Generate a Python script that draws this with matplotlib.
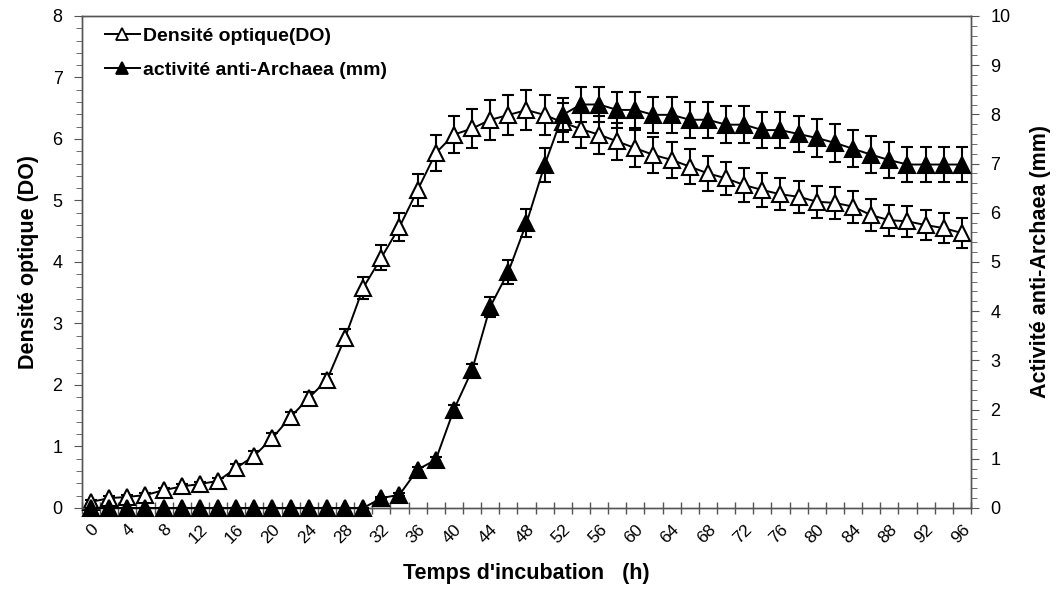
import numpy as np
import matplotlib
matplotlib.use('Agg')
import matplotlib.pyplot as plt
from matplotlib.lines import Line2D
from matplotlib.ticker import MultipleLocator

plt.rcParams['font.family'] = ['Liberation Sans', 'DejaVu Sans']

# incubation time (h)
hours = list(range(0, 97, 2))

# optical density (left axis)
do_vals = [0.10, 0.16, 0.18, 0.21, 0.29, 0.35, 0.39, 0.44, 0.65, 0.85,
           1.14, 1.48, 1.79, 2.08, 2.77, 3.58, 4.07, 4.57, 5.17, 5.77,
           6.07, 6.17, 6.31, 6.39, 6.47, 6.39, 6.27, 6.16, 6.07, 5.96,
           5.85, 5.74, 5.66, 5.55, 5.44, 5.36, 5.25, 5.17, 5.10, 5.06,
           4.98, 4.96, 4.90, 4.76, 4.68, 4.66, 4.60, 4.55, 4.47]
do_err = [0.03, 0.03, 0.03, 0.03, 0.04, 0.04, 0.04, 0.05, 0.06, 0.07,
          0.08, 0.08, 0.10, 0.10, 0.14, 0.18, 0.20, 0.23, 0.26, 0.29,
          0.30, 0.31, 0.32, 0.32, 0.33, 0.32, 0.32, 0.31, 0.31, 0.30,
          0.30, 0.29, 0.29, 0.28, 0.28, 0.27, 0.27, 0.27, 0.26, 0.26,
          0.26, 0.26, 0.26, 0.26, 0.25, 0.25, 0.25, 0.24, 0.24]

# anti-Archaea activity (mm, right axis)
act_vals = [0, 0, 0, 0, 0, 0, 0, 0, 0, 0,
            0, 0, 0, 0, 0, 0, 0.20, 0.27, 0.78, 0.98,
            2.00, 2.80, 4.09, 4.80, 5.79, 6.97, 7.99, 8.20, 8.20, 8.09,
            8.09, 7.99, 7.99, 7.89, 7.89, 7.79, 7.79, 7.68, 7.68, 7.60,
            7.52, 7.42, 7.30, 7.18, 7.07, 6.98, 6.98, 6.98, 6.98]
act_err = [0, 0, 0, 0, 0, 0, 0, 0, 0, 0,
           0, 0, 0, 0, 0, 0, 0.02, 0.03, 0.05, 0.06,
           0.10, 0.12, 0.20, 0.24, 0.29, 0.34, 0.35, 0.35, 0.35, 0.36,
           0.36, 0.37, 0.37, 0.37, 0.37, 0.37, 0.37, 0.37, 0.37, 0.37,
           0.38, 0.38, 0.38, 0.37, 0.37, 0.36, 0.36, 0.36, 0.36]

fig = plt.figure(figsize=(10.62, 5.90), dpi=100)
ax = fig.add_axes([0.0772, 0.139, 0.8371, 0.834])
ax2 = ax.twinx()

ms = 11
ax.errorbar(hours, do_vals, yerr=do_err, color='black', lw=1.4,
            marker='^', ms=ms, mfc='white', mec='black', mew=1.5,
            ecolor='black', elinewidth=1.5, capsize=4, capthick=1.5,
            zorder=3, clip_on=False)
ax2.errorbar(hours, act_vals, yerr=act_err, color='black', lw=1.4,
             marker='^', ms=ms, mfc='black', mec='black', mew=1.5,
             ecolor='black', elinewidth=1.5, capsize=4, capthick=1.5,
             zorder=3, clip_on=False)

ax.set_xlim(-1, 97)
ax.set_ylim(0, 8)
ax2.set_ylim(0, 10)

# x axis: tick marks between categories, labels every 4 h
ax.set_xticks(range(0, 97, 4))
ax.set_xticks(range(-1, 98, 2), minor=True)
ax.tick_params(axis='x', which='major', length=0, pad=10, labelsize=12.5)
ax.tick_params(axis='x', which='minor', direction='inout', length=9,
               width=1, color='#555555')
for lbl in ax.get_xticklabels():
    lbl.set_rotation(45)
    lbl.set_ha('right')
    lbl.set_va('top')
    lbl.set_rotation_mode('anchor')

ax.yaxis.set_major_locator(MultipleLocator(1))
ax.yaxis.set_minor_locator(MultipleLocator(0.2))
ax.tick_params(axis='y', which='major', direction='out', length=6,
               labelsize=13, pad=8, color='#555555')
ax.tick_params(axis='y', which='minor', direction='out', length=4,
               color='#555555')

ax2.yaxis.set_major_locator(MultipleLocator(1))
ax2.yaxis.set_minor_locator(MultipleLocator(0.2))
ax2.tick_params(axis='y', which='major', direction='out', length=6,
                labelsize=13, pad=8, color='#555555')
ax2.tick_params(axis='y', which='minor', direction='out', length=4,
                color='#555555')

for a in (ax, ax2):
    for s in a.spines.values():
        s.set_color('#555555')
        s.set_linewidth(1)

ax.set_ylabel('Densité optique (DO)', fontsize=15.5, fontweight='bold', labelpad=10)
ax2.set_ylabel('Activité anti-Archaea (mm)', fontsize=15.5, fontweight='bold',
               labelpad=14)
ax.set_xlabel("Temps d'incubation   (h)", fontsize=15.5, fontweight='bold',
              labelpad=12)

handles = [
    Line2D([], [], color='black', lw=1.4, marker='^', ms=9, mfc='white',
           mec='black', mew=1.3),
    Line2D([], [], color='black', lw=1.4, marker='^', ms=9, mfc='black',
           mec='black', mew=1.3),
]
ax2.legend(handles, ['Densité optique(DO)', 'activité anti-Archaea (mm)'],
           loc='upper left', bbox_to_anchor=(0.006, 1.012), frameon=False,
           prop={'size': 14, 'weight': 'bold'}, handlelength=1.8,
           handletextpad=0.15, labelspacing=0.85)

fig.savefig('out.png', dpi=100)
